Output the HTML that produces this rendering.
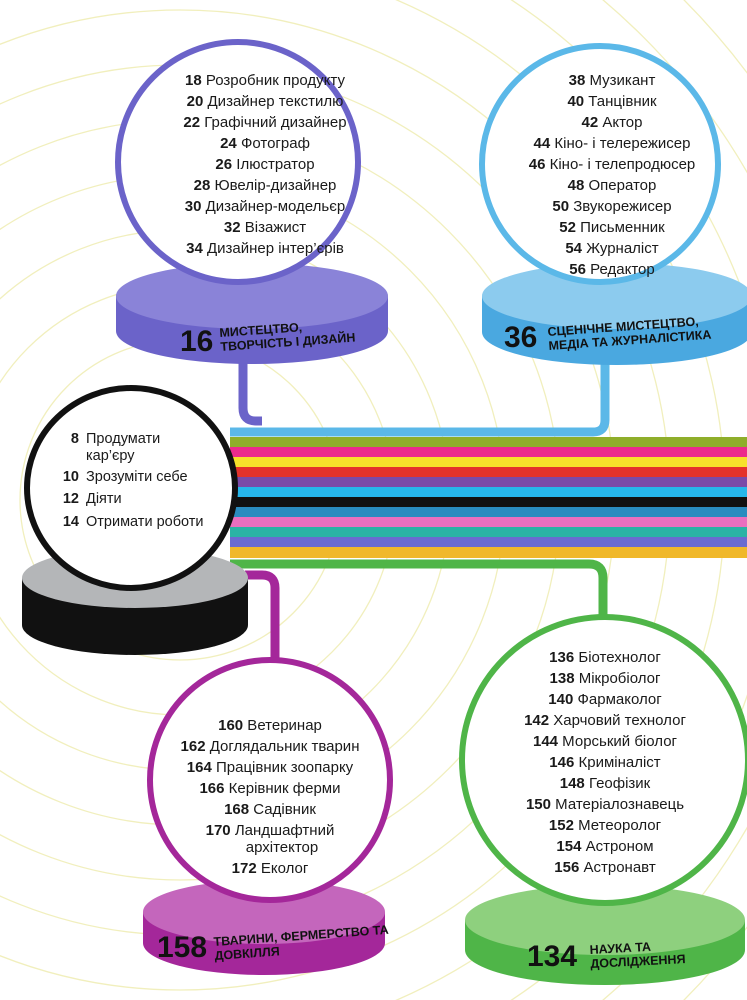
<!DOCTYPE html>
<html><head><meta charset="utf-8"><style>
html,body{margin:0;padding:0;background:#fff;width:747px;height:1000px;overflow:hidden}
svg{display:block}
text{font-family:"Liberation Sans",sans-serif;fill:#1a1a1a}
.t{font-size:15px;text-anchor:middle}
.t tspan.b{font-weight:bold}
.n{font-weight:bold;font-size:30px;fill:#111}
.l{font-weight:bold;font-size:12.5px;fill:#111}
</style></head><body>
<svg width="747" height="1000" viewBox="0 0 747 1000" xmlns="http://www.w3.org/2000/svg">
<g fill="none" stroke="#f1efbd" stroke-width="1.3">
<circle cx="180" cy="500" r="160"/><circle cx="180" cy="500" r="215"/><circle cx="180" cy="500" r="270"/>
<circle cx="180" cy="500" r="325"/><circle cx="180" cy="500" r="380"/><circle cx="180" cy="500" r="435"/>
<circle cx="180" cy="500" r="490"/><circle cx="180" cy="500" r="545"/><circle cx="180" cy="500" r="600"/>
<circle cx="180" cy="500" r="655"/><circle cx="180" cy="500" r="710"/><circle cx="180" cy="500" r="765"/>
<circle cx="180" cy="500" r="820"/>
</g>
<g fill="none" stroke-width="9">
<path d="M243 360 V408 Q243 421 256 421 H262" stroke="#6b63c9"/>
<path d="M605 360 V420 Q605 432 593 432 H230" stroke="#5bb8e8"/>
<path d="M230 564 H589 Q603 564 603 578 V620" stroke="#4fb548"/>
<path d="M245 575 H262 Q275 575 275 588 V665" stroke="#a4279a"/>
</g>
<rect x="230" y="437" width="517" height="10" fill="#8fae2a"/>
<rect x="230" y="447" width="517" height="10" fill="#ec2a8c"/>
<rect x="230" y="457" width="517" height="10" fill="#f7e12a"/>
<rect x="230" y="467" width="517" height="10" fill="#e4322b"/>
<rect x="230" y="477" width="517" height="10" fill="#7a4aa8"/>
<rect x="230" y="487" width="517" height="10" fill="#26b6ea"/>
<rect x="230" y="497" width="517" height="10" fill="#111"/>
<rect x="230" y="507" width="517" height="10" fill="#2a8cbf"/>
<rect x="230" y="517" width="517" height="10" fill="#ea6fbf"/>
<rect x="230" y="527" width="517" height="10" fill="#2bb3a5"/>
<rect x="230" y="537" width="517" height="10" fill="#6b6bd0"/>
<rect x="230" y="547" width="517" height="11" fill="#f0b82a"/>

<path d="M116 296 V331 A136 33 0 0 0 388 331 V296 Z" fill="#6b63c9"/>
<ellipse cx="252" cy="296" rx="136" ry="33" fill="#8a83d8"/>
<path d="M482 296 V332 A135 33 0 0 0 752 332 V296 Z" fill="#4aa8e0"/>
<ellipse cx="617" cy="296" rx="135" ry="33" fill="#8ccbee"/>
<path d="M22 578 V625 A113 30 0 0 0 248 625 V578 Z" fill="#111"/>
<ellipse cx="135" cy="578" rx="113" ry="30" fill="#b4b6b8"/>
<path d="M143 912 V943 A121 32 0 0 0 385 943 V912 Z" fill="#a4279a"/>
<ellipse cx="264" cy="912" rx="121" ry="32" fill="#c466bc"/>
<path d="M465 920 V950 A140 35 0 0 0 745 950 V920 Z" fill="#4fb548"/>
<ellipse cx="605" cy="920" rx="140" ry="35" fill="#8ed07e"/>

<circle cx="238" cy="162" r="120" fill="#fff" stroke="#6b63c9" stroke-width="6"/>
<circle cx="600" cy="164" r="118" fill="#fff" stroke="#5bb8e8" stroke-width="6"/>
<ellipse cx="131" cy="488" rx="104" ry="100" fill="#fff" stroke="#111" stroke-width="6"/>
<circle cx="270" cy="780" r="120" fill="#fff" stroke="#a4279a" stroke-width="6"/>
<circle cx="605" cy="760" r="143" fill="#fff" stroke="#4fb548" stroke-width="6"/>

<text x="265" y="85" class="t"><tspan class="b">18</tspan> Розробник продукту</text>
<text x="265" y="106" class="t"><tspan class="b">20</tspan> Дизайнер текстилю</text>
<text x="265" y="127" class="t"><tspan class="b">22</tspan> Графічний дизайнер</text>
<text x="265" y="148" class="t"><tspan class="b">24</tspan> Фотограф</text>
<text x="265" y="169" class="t"><tspan class="b">26</tspan> Ілюстратор</text>
<text x="265" y="190" class="t"><tspan class="b">28</tspan> Ювелір-дизайнер</text>
<text x="265" y="211" class="t"><tspan class="b">30</tspan> Дизайнер-модельєр</text>
<text x="265" y="232" class="t"><tspan class="b">32</tspan> Візажист</text>
<text x="265" y="253" class="t"><tspan class="b">34</tspan> Дизайнер інтер’єрів</text>

<text x="612" y="85" class="t"><tspan class="b">38</tspan> Музикант</text>
<text x="612" y="106" class="t"><tspan class="b">40</tspan> Танцівник</text>
<text x="612" y="127" class="t"><tspan class="b">42</tspan> Актор</text>
<text x="612" y="148" class="t"><tspan class="b">44</tspan> Кіно- і телережисер</text>
<text x="612" y="169" class="t"><tspan class="b">46</tspan> Кіно- і телепродюсер</text>
<text x="612" y="190" class="t"><tspan class="b">48</tspan> Оператор</text>
<text x="612" y="211" class="t"><tspan class="b">50</tspan> Звукорежисер</text>
<text x="612" y="232" class="t"><tspan class="b">52</tspan> Письменник</text>
<text x="612" y="253" class="t"><tspan class="b">54</tspan> Журналіст</text>
<text x="612" y="274" class="t"><tspan class="b">56</tspan> Редактор</text>

<g style="font-size:14.5px">
<text x="79" y="443" text-anchor="end" font-weight="bold">8</text><text x="86" y="443">Продумати</text>
<text x="86" y="460">кар’єру</text>
<text x="79" y="481" text-anchor="end" font-weight="bold">10</text><text x="86" y="481">Зрозуміти себе</text>
<text x="79" y="503" text-anchor="end" font-weight="bold">12</text><text x="86" y="503">Діяти</text>
<text x="79" y="526" text-anchor="end" font-weight="bold">14</text><text x="86" y="526">Отримати роботи</text>
</g>

<text x="270" y="730" class="t"><tspan class="b">160</tspan> Ветеринар</text>
<text x="270" y="751" class="t"><tspan class="b">162</tspan> Доглядальник тварин</text>
<text x="270" y="772" class="t"><tspan class="b">164</tspan> Працівник зоопарку</text>
<text x="270" y="793" class="t"><tspan class="b">166</tspan> Керівник ферми</text>
<text x="270" y="814" class="t"><tspan class="b">168</tspan> Садівник</text>
<text x="270" y="835" class="t"><tspan class="b">170</tspan> Ландшафтний</text>
<text x="282" y="852" class="t">архітектор</text>
<text x="270" y="873" class="t"><tspan class="b">172</tspan> Еколог</text>

<text x="605" y="662" class="t"><tspan class="b">136</tspan> Біотехнолог</text>
<text x="605" y="683" class="t"><tspan class="b">138</tspan> Мікробіолог</text>
<text x="605" y="704" class="t"><tspan class="b">140</tspan> Фармаколог</text>
<text x="605" y="725" class="t"><tspan class="b">142</tspan> Харчовий технолог</text>
<text x="605" y="746" class="t"><tspan class="b">144</tspan> Морський біолог</text>
<text x="605" y="767" class="t"><tspan class="b">146</tspan> Криміналіст</text>
<text x="605" y="788" class="t"><tspan class="b">148</tspan> Геофізик</text>
<text x="605" y="809" class="t"><tspan class="b">150</tspan> Матеріалознавець</text>
<text x="605" y="830" class="t"><tspan class="b">152</tspan> Метеоролог</text>
<text x="605" y="851" class="t"><tspan class="b">154</tspan> Астроном</text>
<text x="605" y="872" class="t"><tspan class="b">156</tspan> Астронавт</text>

<text x="180" y="351" class="n">16</text>
<g transform="rotate(-4 220 340)"><text x="220" y="337" class="l">МИСТЕЦТВО,</text><text x="220" y="351" class="l">ТВОРЧІСТЬ І ДИЗАЙН</text></g>
<text x="504" y="347" class="n">36</text>
<g transform="rotate(-4 548 338)"><text x="548" y="336" class="l">СЦЕНІЧНЕ МИСТЕЦТВО,</text><text x="548" y="350" class="l">МЕДІА ТА ЖУРНАЛІСТИКА</text></g>
<text x="157" y="957" class="n">158</text>
<g transform="rotate(-4 214 948)"><text x="214" y="946" class="l">ТВАРИНИ, ФЕРМЕРСТВО ТА</text><text x="214" y="960" class="l">ДОВКІЛЛЯ</text></g>
<text x="527" y="966" class="n">134</text>
<g transform="rotate(-3 590 956)"><text x="590" y="954" class="l">НАУКА ТА</text><text x="590" y="968" class="l">ДОСЛІДЖЕННЯ</text></g>
</svg>
</body></html>
